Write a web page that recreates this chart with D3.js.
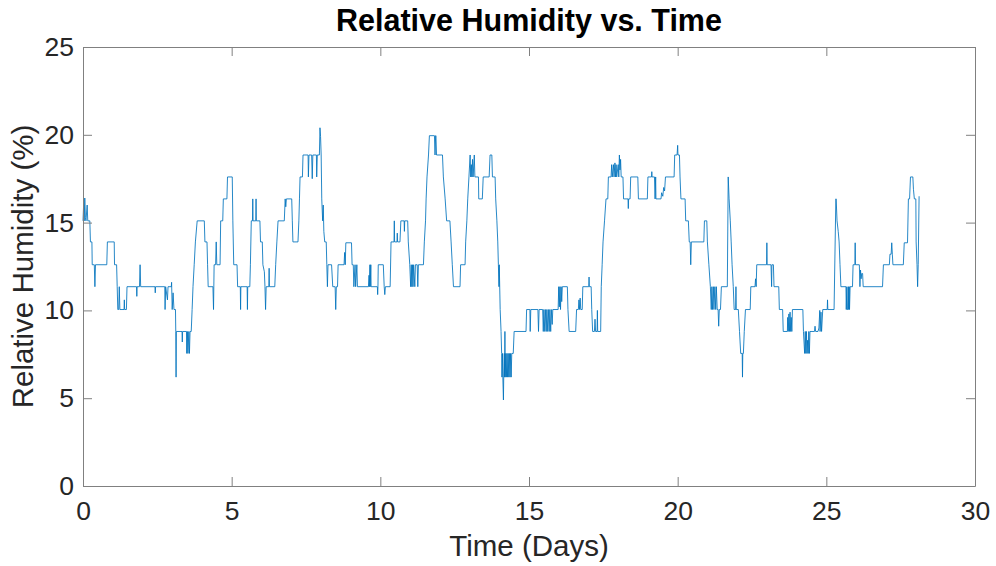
<!DOCTYPE html>
<html>
<head>
<meta charset="utf-8">
<script src="https://cdn.jsdelivr.net/npm/d3@7/dist/d3.min.js"></script>
<style>
  html, body { margin: 0; padding: 0; background: #ffffff; }
  svg { display: block; }
  text { font-family: "Liberation Sans", Arial, Helvetica, sans-serif; fill: #262626; }
</style>
</head>
<body>
<svg id="chart" width="996" height="566"></svg>
<script>
// Humidity log: time in days and relative humidity (%) at each reading.
const days = [
  0.00, 0.02, 0.04, 0.06, 0.08, 0.10, 0.14, 0.16, 0.23, 0.25, 0.30, 0.31, 0.38, 0.40, 0.42, 0.80, 0.82, 1.05, 1.06, 1.13,
  1.15, 1.17, 1.20, 1.22, 1.24, 1.38, 1.39, 1.40, 1.46, 1.48, 1.80, 1.81, 1.82, 1.90, 1.92, 1.94, 2.42, 2.43, 2.44, 2.75,
  2.76, 2.78, 2.84, 2.86, 2.97, 2.98, 3.00, 3.03, 3.06, 3.11, 3.12, 3.13, 3.14, 3.33, 3.34, 3.35, 3.48, 3.49, 3.51, 3.53,
  3.56, 3.58, 3.60, 3.64, 3.67, 3.70, 3.74, 3.78, 3.84, 4.08, 4.10, 4.17, 4.19, 4.21, 4.37, 4.39, 4.41, 4.46, 4.48, 4.50,
  4.61, 4.63, 4.70, 4.72, 4.84, 4.86, 5.02, 5.04, 5.07, 5.18, 5.20, 5.29, 5.30, 5.31, 5.52, 5.53, 5.54, 5.61, 5.63, 5.66,
  5.70, 5.71, 5.72, 5.81, 5.82, 5.83, 5.95, 5.97, 6.03, 6.05, 6.10, 6.12, 6.14, 6.16, 6.25, 6.26, 6.27, 6.45, 6.48, 6.52,
  6.56, 6.77, 6.80, 6.82, 6.84, 7.02, 7.04, 7.06, 7.23, 7.26, 7.28, 7.30, 7.38, 7.40, 7.57, 7.58, 7.60, 7.69, 7.71, 7.73,
  7.85, 7.86, 7.88, 7.95, 7.97, 7.99, 8.01, 8.03, 8.06, 8.08, 8.10, 8.13, 8.18, 8.20, 8.22, 8.24, 8.36, 8.40, 8.48, 8.50,
  8.52, 8.56, 8.58, 8.78, 8.80, 8.82, 8.84, 9.03, 9.05, 9.09, 9.11, 9.15, 9.17, 9.21, 9.23, 9.60, 9.62, 9.63, 9.65, 9.66,
  9.68, 9.69, 9.90, 9.91, 9.92, 9.93, 10.10, 10.13, 10.15, 10.17, 10.33, 10.36, 10.46, 10.47, 10.48, 10.56, 10.57, 10.58, 10.66, 10.69,
  10.80, 10.81, 10.82, 10.92, 10.94, 10.99, 11.02, 11.04, 11.06, 11.08, 11.10, 11.12, 11.16, 11.18, 11.24, 11.26, 11.28, 11.45, 11.48, 11.52,
  11.54, 11.57, 11.62, 11.65, 11.82, 11.84, 11.86, 11.87, 11.89, 12.09, 12.12, 12.18, 12.23, 12.34, 12.38, 12.42, 12.46, 12.68, 12.70, 12.85,
  12.87, 12.91, 12.94, 12.98, 13.02, 13.04, 13.06, 13.08, 13.10, 13.12, 13.16, 13.18, 13.30, 13.31, 13.43, 13.46, 13.66, 13.69, 13.75, 13.77,
  13.86, 13.88, 13.92, 13.95, 13.97, 13.99, 14.00, 14.03, 14.06, 14.08, 14.09, 14.11, 14.12, 14.14, 14.15, 14.17, 14.18, 14.19, 14.20, 14.22,
  14.24, 14.26, 14.28, 14.30, 14.32, 14.34, 14.36, 14.38, 14.40, 14.42, 14.47, 14.50, 14.90, 14.92, 15.03, 15.04, 15.06, 15.30, 15.32, 15.34,
  15.46, 15.48, 15.50, 15.53, 15.55, 15.58, 15.60, 15.63, 15.65, 15.68, 15.70, 15.73, 15.75, 15.78, 15.80, 15.98, 16.00, 16.02, 16.04, 16.06,
  16.08, 16.10, 16.12, 16.29, 16.31, 16.35, 16.57, 16.60, 16.66, 16.68, 16.70, 16.72, 16.74, 16.79, 16.81, 17.01, 17.02, 17.03, 17.09, 17.11,
  17.14, 17.20, 17.22, 17.24, 17.29, 17.30, 17.31, 17.41, 17.43, 17.46, 17.49, 17.54, 17.59, 17.65, 17.67, 17.76, 17.78, 17.80, 17.84, 17.86,
  17.89, 17.91, 17.93, 17.95, 18.00, 18.02, 18.04, 18.06, 18.08, 18.10, 18.16, 18.18, 18.33, 18.34, 18.35, 18.40, 18.42, 18.66, 18.68, 18.98,
  19.00, 19.12, 19.13, 19.14, 19.22, 19.24, 19.26, 19.27, 19.44, 19.46, 19.50, 19.53, 19.56, 19.59, 19.88, 19.90, 19.98, 20.00, 20.01, 20.06,
  20.08, 20.11, 20.25, 20.27, 20.36, 20.39, 20.42, 20.44, 20.46, 20.88, 20.90, 20.98, 21.00, 21.05, 21.10, 21.13, 21.15, 21.17, 21.20, 21.22,
  21.25, 21.28, 21.30, 21.33, 21.36, 21.38, 21.40, 21.44, 21.47, 21.67, 21.70, 21.73, 21.77, 21.80, 21.83, 21.87, 21.90, 21.95, 21.96, 21.97,
  22.04, 22.08, 22.12, 22.17, 22.18, 22.19, 22.21, 22.24, 22.28, 22.44, 22.46, 22.60, 22.62, 22.64, 22.66, 22.99, 23.00, 23.01, 23.14, 23.16,
  23.17, 23.22, 23.24, 23.40, 23.42, 23.53, 23.55, 23.69, 23.70, 23.72, 23.74, 23.76, 23.78, 23.80, 23.82, 23.84, 23.86, 24.21, 24.23, 24.27,
  24.29, 24.31, 24.33, 24.35, 24.37, 24.39, 24.41, 24.43, 24.45, 24.60, 24.62, 24.64, 24.72, 24.75, 24.78, 24.79, 24.82, 24.84, 24.88, 25.03,
  25.04, 25.05, 25.26, 25.32, 25.33, 25.36, 25.40, 25.43, 25.46, 25.49, 25.66, 25.67, 25.69, 25.70, 25.72, 25.74, 25.75, 25.77, 25.78, 25.80,
  25.88, 25.90, 25.96, 25.97, 25.98, 26.11, 26.13, 26.15, 26.17, 26.19, 26.22, 26.24, 26.89, 26.92, 27.12, 27.14, 27.18, 27.20, 27.22, 27.24,
  27.59, 27.62, 27.73, 27.76, 27.80, 27.83, 27.91, 27.93, 27.96, 28.01, 28.02, 28.05, 28.07, 28.09, 28.12
];

const humidity = [
  15.1, 16.0, 15.1, 16.4, 15.3, 15.1, 16.0, 15.1, 15.1, 13.9, 13.9, 12.6, 12.6, 11.35, 12.6, 12.6, 13.9, 13.9, 12.6, 12.6,
  11.35, 10.05, 10.05, 11.35, 10.05, 10.05, 10.6, 10.05, 10.05, 11.35, 11.35, 10.8, 11.35, 11.35, 12.6, 11.35, 11.35, 11.0, 11.35, 11.35,
  10.05, 11.35, 10.6, 11.35, 11.35, 11.6, 10.05, 11.0, 10.05, 10.05, 8.8, 6.2, 8.8, 8.8, 8.2, 8.8, 8.8, 7.55, 8.8, 7.55,
  8.8, 7.55, 8.8, 8.8, 10.05, 11.35, 12.6, 13.9, 15.1, 15.1, 13.9, 13.9, 12.6, 11.35, 11.35, 10.05, 12.6, 12.6, 13.9, 12.6,
  12.6, 15.1, 15.1, 16.35, 16.35, 17.6, 17.6, 15.1, 12.6, 12.6, 11.35, 11.35, 10.05, 11.35, 11.35, 10.05, 11.35, 11.35, 12.6, 15.1,
  15.1, 16.35, 15.1, 15.1, 16.35, 15.1, 15.1, 13.9, 13.9, 12.6, 12.2, 11.35, 10.05, 11.35, 11.35, 12.4, 11.35, 11.35, 12.6, 13.9,
  15.1, 15.1, 16.35, 15.9, 16.35, 16.35, 15.1, 13.9, 13.9, 15.1, 16.35, 17.6, 17.6, 18.85, 18.85, 17.6, 18.85, 18.85, 17.5, 18.85,
  18.85, 17.6, 18.85, 18.85, 20.4, 19.9, 18.85, 16.35, 15.1, 16.0, 14.5, 13.9, 13.9, 12.6, 11.35, 12.6, 12.6, 11.35, 11.35, 10.05,
  11.35, 11.35, 12.6, 12.6, 13.3, 12.6, 13.85, 13.85, 12.6, 12.6, 11.35, 12.6, 11.35, 12.6, 11.35, 11.35, 12.0, 11.35, 12.6, 11.35,
  12.6, 11.35, 11.35, 10.9, 11.35, 12.6, 12.6, 11.35, 10.9, 11.35, 11.35, 13.9, 13.9, 15.1, 13.9, 13.9, 14.4, 13.9, 13.9, 15.1,
  15.1, 14.5, 15.1, 15.1, 13.9, 12.6, 11.35, 12.6, 11.35, 12.6, 11.35, 12.6, 11.35, 12.6, 12.6, 11.35, 12.6, 12.6, 13.9, 15.1,
  16.35, 17.6, 18.85, 19.95, 19.95, 18.85, 19.95, 19.95, 18.85, 18.85, 17.6, 16.35, 15.1, 15.1, 13.9, 12.6, 11.35, 11.35, 12.6, 12.6,
  13.9, 15.1, 16.35, 17.6, 18.85, 17.6, 18.3, 17.6, 18.6, 17.6, 18.85, 17.6, 17.6, 16.35, 16.35, 17.6, 17.6, 18.85, 18.85, 17.6,
  17.6, 16.35, 15.1, 13.9, 12.6, 11.35, 12.6, 10.05, 8.8, 7.55, 6.2, 7.55, 6.2, 4.9, 6.2, 7.55, 6.2, 8.8, 6.2, 7.55,
  6.2, 7.55, 6.2, 7.55, 6.2, 7.55, 6.2, 7.55, 6.2, 7.55, 7.55, 8.8, 8.8, 10.05, 10.05, 8.8, 10.05, 10.05, 8.8, 10.05,
  10.05, 8.8, 10.05, 8.8, 10.05, 8.8, 10.05, 8.8, 10.05, 8.8, 10.05, 8.8, 10.05, 9.2, 10.05, 10.05, 11.35, 10.2, 11.35, 10.05,
  11.35, 10.5, 11.35, 11.35, 10.05, 8.8, 8.8, 10.05, 10.05, 10.6, 10.05, 10.7, 10.05, 10.05, 11.35, 11.35, 11.9, 11.35, 11.35, 10.05,
  8.8, 8.8, 9.5, 8.8, 8.8, 10.0, 8.8, 8.8, 11.35, 12.6, 13.9, 15.1, 16.35, 16.35, 17.6, 17.6, 18.3, 17.6, 18.3, 17.6,
  18.4, 17.6, 18.3, 17.6, 18.3, 17.6, 18.85, 18.0, 18.6, 17.6, 17.6, 16.35, 16.35, 15.8, 16.35, 16.35, 17.6, 17.6, 16.35, 16.35,
  17.6, 17.6, 17.9, 17.6, 17.6, 16.35, 17.6, 16.35, 16.35, 16.7, 16.5, 17.0, 16.8, 17.6, 17.6, 18.85, 18.85, 19.4, 18.85, 18.85,
  17.6, 16.35, 16.35, 15.1, 15.1, 13.9, 13.9, 12.6, 13.9, 13.9, 15.1, 15.1, 13.9, 12.6, 11.35, 10.05, 11.35, 10.05, 11.35, 10.05,
  11.35, 10.05, 11.35, 10.05, 10.05, 9.1, 10.05, 10.05, 11.35, 11.35, 17.6, 16.35, 15.1, 13.9, 12.6, 11.35, 10.05, 10.05, 11.35, 10.05,
  10.05, 8.8, 7.55, 7.55, 6.2, 7.55, 7.55, 8.8, 10.05, 10.05, 11.35, 11.35, 11.8, 11.35, 12.6, 12.6, 13.85, 12.6, 12.6, 11.35,
  12.6, 12.6, 11.35, 11.35, 10.05, 10.05, 8.8, 8.8, 9.6, 8.8, 9.8, 8.8, 9.9, 8.8, 9.6, 8.8, 10.05, 10.05, 8.8, 7.55,
  8.8, 7.55, 8.8, 7.55, 8.3, 7.55, 8.8, 7.55, 8.8, 8.8, 9.1, 8.8, 8.8, 9.0, 10.0, 8.8, 9.9, 8.8, 10.05, 10.05,
  10.6, 10.05, 10.05, 16.35, 16.35, 15.1, 14.5, 13.9, 12.6, 11.35, 11.35, 10.05, 11.35, 10.05, 10.05, 11.35, 10.05, 11.35, 10.05, 11.35,
  11.35, 12.6, 12.6, 13.85, 12.6, 12.6, 11.35, 12.3, 11.8, 12.1, 12.1, 11.35, 11.35, 12.6, 12.6, 13.2, 13.2, 13.85, 13.2, 12.6,
  12.6, 13.85, 13.85, 16.35, 16.35, 17.6, 17.6, 16.9, 16.35, 16.35, 13.9, 12.6, 11.35, 12.6, 16.5
];

const xTicks = [0, 5, 10, 15, 20, 25, 30];
const yTicks = [0, 5, 10, 15, 20, 25];

const chartTitle = "Relative Humidity vs. Time";
const xLabel = "Time (Days)";
const yLabel = "Relative Humidity (%)";

// Pixel edges of the axes box
const box = { left: 83, right: 975, top: 47, bottom: 486 };
const tickLen = 9;
const axisColor = "#808080";
const textColor = "#262626";

const svg = d3.select("#chart");

const x = d3.scaleLinear().domain([0, 30]).range([box.left, box.right]);
const y = d3.scaleLinear().domain([0, 25]).range([box.bottom, box.top]);

const readings = days.map((d, i) => ({ t: d, v: humidity[i] }));

// Data line
const line = d3.line()
  .x(d => x(d.t))
  .y(d => y(d.v));

svg.append("path")
  .datum(readings)
  .attr("fill", "none")
  .attr("stroke", "#0072BD")
  .attr("stroke-width", 0.85)
  .attr("stroke-linejoin", "round")
  .attr("d", line);

// Axes with inward ticks on all four sides
function styleAxis(g, hideLabels) {
  g.select(".domain").attr("stroke", axisColor).attr("stroke-width", 1);
  g.selectAll(".tick line").attr("stroke", axisColor).attr("stroke-width", 1);
  g.selectAll(".tick text")
    .attr("fill", textColor)
    .style("font-family", '"Liberation Sans", Arial, Helvetica, sans-serif')
    .style("font-size", "26.5px");
  if (hideLabels) g.selectAll(".tick text").remove();
}

svg.append("g")
  .attr("transform", `translate(0,${box.bottom})`)
  .call(d3.axisBottom(x).tickValues(xTicks).tickFormat(d3.format("d"))
    .tickSizeInner(-tickLen).tickSizeOuter(0).tickPadding(15))
  .call(g => styleAxis(g, false));

svg.append("g")
  .attr("transform", `translate(0,${box.top})`)
  .call(d3.axisTop(x).tickValues(xTicks).tickSizeInner(-tickLen).tickSizeOuter(0))
  .call(g => styleAxis(g, true));

svg.append("g")
  .attr("transform", `translate(${box.left},0)`)
  .call(d3.axisLeft(y).tickValues(yTicks).tickFormat(d3.format("d"))
    .tickSizeInner(-tickLen).tickSizeOuter(0).tickPadding(9))
  .call(g => styleAxis(g, false));

svg.append("g")
  .attr("transform", `translate(${box.right},0)`)
  .call(d3.axisRight(y).tickValues(yTicks).tickSizeInner(-tickLen).tickSizeOuter(0))
  .call(g => styleAxis(g, true));

// Title and axis labels
svg.append("text")
  .attr("x", (box.left + box.right) / 2)
  .attr("y", 31)
  .attr("text-anchor", "middle")
  .style("font-size", "30.5px")
  .style("font-weight", "bold")
  .style("fill", "#000")
  .text(chartTitle);

svg.append("text")
  .attr("x", (box.left + box.right) / 2)
  .attr("y", 556)
  .attr("text-anchor", "middle")
  .style("font-size", "29.5px")
  .text(xLabel);

svg.append("text")
  .attr("transform", `translate(33,${(box.top + box.bottom) / 2}) rotate(-90)`)
  .attr("text-anchor", "middle")
  .style("font-size", "29.5px")
  .text(yLabel);
</script>
</body>
</html>
